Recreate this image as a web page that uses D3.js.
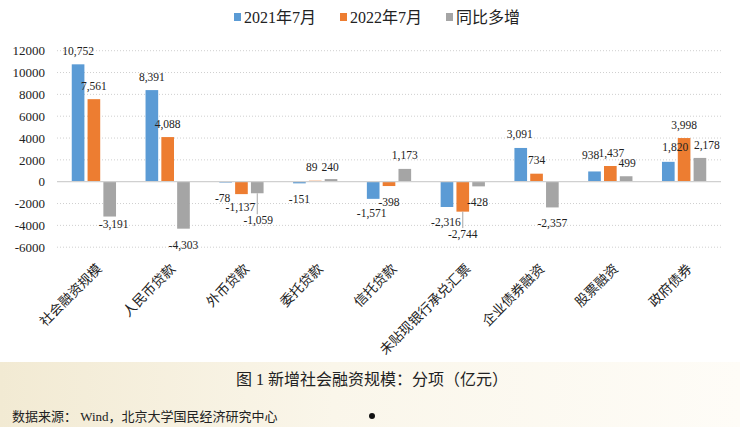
<!DOCTYPE html>
<html>
<head>
<meta charset="utf-8">
<script src="https://cdn.jsdelivr.net/npm/d3@7"></script>
<style>
  html, body { margin: 0; padding: 0; background: #fff; }
  svg { display: block; }
  text { font-family: "Liberation Serif", "Noto Sans CJK SC", serif; fill: #222; }
</style>
</head>
<body>
<svg id="chart" width="740" height="427"></svg>
<script>
// ---- data ----
const categories = ["社会融资规模", "人民币贷款", "外币贷款", "委托贷款", "信托贷款", "未贴现银行承兑汇票", "企业债券融资", "股票融资", "政府债券"];
const seriesNames = ["2021年7月", "2022年7月", "同比多增"];
const values2021 = [10752, 8391, -78, -151, -1571, -2316, 3091, 938, 1820];
const values2022 = [7561, 4088, -1137, 89, -398, -2744, 734, 1437, 3998];
const valuesDiff = [-3191, -4303, -1059, 240, 1173, -428, -2357, 499, 2178];
const yTicks = [-6000, -4000, -2000, 0, 2000, 4000, 6000, 8000, 10000, 12000];
const captionText = "图 1  新增社会融资规模：分项（亿元）";
const sourceText = "数据来源：  Wind，北京大学国民经济研究中心";

// ---- layout / style (not data) ----
const colors = ["#5B9BD5", "#ED7D31", "#A5A5A5"];
// label nudges [dx, dy] per category, per series
const labelNudge = [
  [[0, 0], [0, 0], [4, -7]],
  [[0, 0], [0, 0], [0, 2]],
  [[-3, 1], [-1, -1], [1, 13]],
  [[0, 2], [-3.5, 0], [-1, 1]],
  [[-1.5, 0], [0, 1.7], [0, 0]],
  [[-1, 0.7], [0, 8.4], [-1, 1.3]],
  [[-1, 0], [0, 0], [0, 1.6]],
  [[-4, -3], [1, 0], [1, 0]],
  [[7, -1.3], [0, 0], [7, 0.6]]
];
const leaderLines = [[2, 2], [5, 1]]; // [category index, series index]
const hyphen = s => s.replace(/\u2212/g, "-");

const svg = d3.select("#chart");

// bottom background band
const defs = svg.append("defs");
const grad = defs.append("linearGradient").attr("id", "bg").attr("x1", "0").attr("x2", "1").attr("y1", "0").attr("y2", "0");
grad.append("stop").attr("offset", "0").attr("stop-color", "#f2ead3");
grad.append("stop").attr("offset", "0.45").attr("stop-color", "#faf6ea");
grad.append("stop").attr("offset", "1").attr("stop-color", "#fefcf7");
svg.append("rect").attr("x", 0).attr("y", 362).attr("width", 740).attr("height", 65).attr("fill", "url(#bg)");

const plotLeft = 57, plotRight = 721;
const y = d3.scaleLinear().domain([-6000, 12000]).range([247.2, 50.7]);
const x0 = d3.scaleBand().domain(categories).range([plotLeft, plotRight]).paddingInner(0.4).paddingOuter(0.2);
const x1 = d3.scaleBand().domain(seriesNames).range([0, x0.bandwidth()]).paddingInner(0.2);

// gridlines
svg.append("g").selectAll("line").data(yTicks.filter(t => t !== 0)).join("line")
  .attr("x1", plotLeft).attr("x2", plotRight)
  .attr("y1", d => y(d)).attr("y2", d => y(d))
  .attr("stroke", "#cfcfcf").attr("stroke-width", 1).attr("stroke-dasharray", "1,2");

// y axis
const yAxis = d3.axisLeft(y).tickValues(yTicks).tickSize(0).tickPadding(0).tickFormat(d => hyphen(d3.format("d")(d)));
const yg = svg.append("g").attr("transform", `translate(45,0)`).call(yAxis)
  .attr("font-family", '"Liberation Serif", serif').attr("font-size", 13);
yg.select(".domain").remove();
yg.selectAll("text").attr("font-size", "13px").attr("fill", "#222")
  .style("font-family", '"Liberation Serif", serif');

const allSeries = [values2021, values2022, valuesDiff];
const rows = categories.map((c, i) => ({ cat: c, i, vals: allSeries.map((s, k) => ({ k, v: s[i], name: seriesNames[k] })) }));

// bars
const groups = svg.append("g").selectAll("g").data(rows).join("g")
  .attr("transform", d => `translate(${x0(d.cat)},0)`);
groups.selectAll("rect").data(d => d.vals).join("rect")
  .attr("x", d => x1(d.name))
  .attr("width", x1.bandwidth())
  .attr("y", d => y(Math.max(0, d.v)))
  .attr("height", d => Math.abs(y(d.v) - y(0)))
  .attr("fill", d => colors[d.k]);

// zero line
svg.append("line").attr("x1", plotLeft).attr("x2", plotRight).attr("y1", y(0)).attr("y2", y(0))
  .attr("stroke", "#d0d0d0").attr("stroke-width", 1.2);

// data labels
const fmt = v => hyphen(d3.format(",")(v));
const labelG = svg.append("g");
rows.forEach(r => {
  r.vals.forEach(d => {
    const cx = x0(r.cat) + x1(d.name) + x1.bandwidth() / 2;
    const nd = labelNudge[r.i][d.k];
    const ly = (d.v >= 0 ? y(d.v) - 13.5 : y(d.v) + 14) + nd[1];
    const lx = cx + nd[0];
    if (leaderLines.some(l => l[0] === r.i && l[1] === d.k)) {
      labelG.append("line").attr("x1", cx).attr("x2", cx)
        .attr("y1", y(d.v)).attr("y2", ly - 6)
        .attr("stroke", "#a6a6a6").attr("stroke-width", 1);
    }
    labelG.append("text").attr("x", lx).attr("y", ly).attr("dy", "0.35em")
      .attr("text-anchor", "middle").attr("font-size", "11.5px")
      .style("font-family", '"Liberation Serif", serif')
      .text(fmt(d.v));
  });
});

// x labels
svg.append("g").selectAll("text").data(categories).join("text")
  .attr("transform", d => `translate(${x0(d) + x0.bandwidth() / 2 + 1},262) rotate(-45)`)
  .attr("text-anchor", "end").attr("dy", "0.8em")
  .attr("font-size", "13.5px").attr("fill", "#333")
  .style("font-family", '"Noto Sans CJK SC", sans-serif')
  .text(d => d);

// legend
const legendX = [234, 340, 446];
const lg = svg.append("g").selectAll("g").data(seriesNames).join("g")
  .attr("transform", (d, i) => `translate(${legendX[i]},17)`);
lg.append("rect").attr("x", 0).attr("y", -4).attr("width", 7).attr("height", 8).attr("fill", (d, i) => colors[i]);
lg.append("text").attr("x", 10).attr("dy", "0.35em").attr("font-size", "16px").attr("fill", "#333").text(d => d);

// caption
svg.append("text").attr("x", 372).attr("y", 379).attr("dy", "0.35em").attr("text-anchor", "middle")
  .attr("font-size", "16px").attr("fill", "#222").text(captionText);
svg.append("text").attr("x", 12).attr("y", 416).attr("dy", "0.35em")
  .attr("font-size", "13px").attr("fill", "#222").text(sourceText);
svg.append("circle").attr("cx", 372).attr("cy", 416).attr("r", 3).attr("fill", "#111");
</script>
</body>
</html>
